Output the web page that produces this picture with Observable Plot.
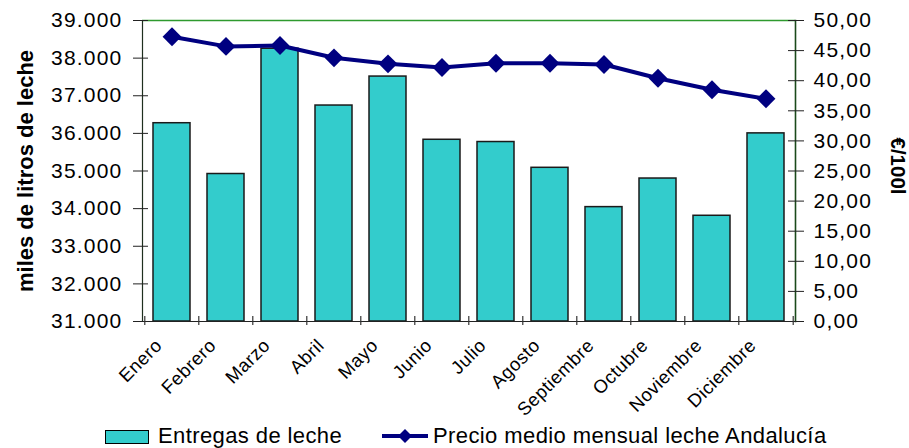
<!DOCTYPE html>
<html><head><meta charset="utf-8">
<script src="https://cdn.jsdelivr.net/npm/d3@7"></script>
<script src="https://cdn.jsdelivr.net/npm/@observablehq/plot@0.6"></script>
<style>
body{margin:0;background:#fff;font-family:"Liberation Sans",Arial,sans-serif;}
#wrap{position:relative;width:909px;height:448px;overflow:hidden;background:#fff;}
#chart svg{display:block;}
#chart svg [aria-label="y-axis tick label"] text{letter-spacing:1.2px;}
#chart svg [aria-label="x-axis tick label"] text{letter-spacing:0.5px;}
.lg{position:absolute;font-size:22px;line-height:22px;letter-spacing:0.4px;color:#000;white-space:nowrap;}
.sw{position:absolute;box-sizing:border-box;background:#33CCCC;border:1.5px solid #000;}
</style></head><body>
<div id="wrap"><div id="chart"></div>
<div class="sw" style="left:105px;top:430px;width:44px;height:14px;"></div>
<div class="lg" style="left:158px;top:424.5px;">Entregas de leche</div>
<svg style="position:absolute;left:380px;top:428px;" width="50" height="16"><line x1="2" y1="8" x2="48" y2="8" stroke="#000080" stroke-width="4"/><path d="M25,1L32,8L25,15L18,8Z" fill="#000080"/></svg>
<div class="lg" style="left:433px;top:424.5px;">Precio medio mensual leche Andalucía</div>
</div>
<script>
const months = ["Enero","Febrero","Marzo","Abril","Mayo","Junio","Julio","Agosto","Septiembre","Octubre","Noviembre","Diciembre"];
const entregas = [36270, 34920, 38250, 36740, 37510, 35830, 35770, 35085, 34040, 34800, 33810, 36000];
const precio = [47.3, 45.7, 45.85, 43.8, 42.8, 42.2, 42.9, 42.9, 42.7, 40.4, 38.5, 37.0];
const leftTicks = [31000, 32000, 33000, 34000, 35000, 36000, 37000, 38000, 39000];
const rightTicks = [0, 5, 10, 15, 20, 25, 30, 35, 40, 45, 50];

const yMin = 31000, yMax = 39000, pMax = 50;
const toLeft = p => yMin + p * (yMax - yMin) / pMax;
const fromLeft = v => (v - yMin) * pMax / (yMax - yMin);

const data = months.map((m, i) => ({mes: m, entregas: entregas[i], precio: precio[i]}));
const W = 909, H = 420, mL = 142, mR = 114, mT = 20, mB = H - 321;
const bw = (W - mL - mR) / months.length;
const fmtL = d => d3.format(",")(d).replace(/,/g, ".");
const fmtR = d => fromLeft(d).toFixed(2).replace(".", ",");

const chart = Plot.plot({
  width: W, height: H,
  marginLeft: mL, marginRight: mR, marginTop: mT, marginBottom: mB,
  style: {fontFamily: "'Liberation Sans', Arial, sans-serif", background: "white", color: "#000", overflow: "visible"},
  x: {type: "band", domain: months, paddingInner: 0.31, paddingOuter: 0.155, label: null},
  y: {domain: [yMin, yMax], label: null},
  marks: [
    Plot.barY(data, {x: "mes", y1: yMin, y2: "entregas", fill: "#33CCCC", stroke: "#1a1a1a", strokeWidth: 1.5}),
    Plot.ruleY([yMax], {stroke: "#2e9a2e", strokeWidth: 1.5}),
    Plot.ruleY([yMin], {stroke: "#222", strokeWidth: 1.2}),
    Plot.frame({anchor: "left", stroke: "#1f2f1f", strokeWidth: 1.2}),
    Plot.frame({anchor: "right", stroke: "#1b4a1b", strokeWidth: 1.6}),
    Plot.axisY(leftTicks, {anchor: "left", tickSize: 15, dx: 6, tickFormat: () => "", stroke: "#222", label: null}),
    Plot.axisY(leftTicks, {anchor: "left", tickSize: 0, tickPadding: 20, tickFormat: fmtL, fontSize: 21, label: null}),
    Plot.axisY(rightTicks.map(toLeft), {anchor: "right", tickSize: 16, dx: -8, tickFormat: () => "", stroke: "#222", label: null}),
    Plot.axisY(rightTicks.map(toLeft), {anchor: "right", tickSize: 0, tickPadding: 18, tickFormat: fmtR, fontSize: 21, label: null}),
    Plot.axisX({tickSize: 0, tickRotate: -45, tickPadding: 21, dx: -13, fontSize: 18.5, label: null}),
    Plot.tickX(months, {x: d => d, dx: -bw / 2, insetTop: 296, insetBottom: -4, stroke: "#333", strokeWidth: 1.2}),
    Plot.tickX([months[months.length - 1]], {x: d => d, dx: bw / 2, insetTop: 296, insetBottom: -4, stroke: "#333", strokeWidth: 1.2}),
    Plot.line(data, {x: "mes", y: d => toLeft(d.precio), stroke: "#000080", strokeWidth: 4}),
    Plot.dot(data, {x: "mes", y: d => toLeft(d.precio), symbol: "diamond2", r: 8.5, fill: "#000080", stroke: "none"}),
    Plot.text(["miles de litros de leche"], {text: d => d, frameAnchor: "left", textAnchor: "middle", lineAnchor: "middle", dx: -117, rotate: -90, fontWeight: "bold", fontSize: 22}),
    Plot.text(["€/100l"], {text: d => d, frameAnchor: "right", textAnchor: "middle", lineAnchor: "middle", dx: 102, dy: -5, rotate: 90, fontWeight: "bold", fontSize: 20.5})
  ]
});
document.getElementById("chart").appendChild(chart);
</script>
</body></html>
